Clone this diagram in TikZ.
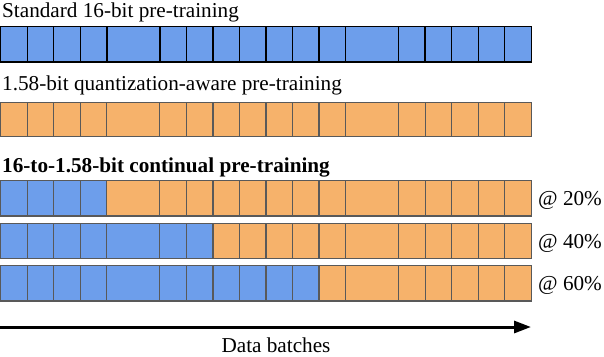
\documentclass[tikz,border=0pt]{standalone}
\usepackage{fontspec}
\setmainfont{Liberation Serif}
\usetikzlibrary{arrows.meta}
\definecolor{fpblue}{HTML}{6D9EEB}
\definecolor{qorange}{HTML}{F6B26B}
\definecolor{cellgray}{HTML}{595959}
\begin{document}
\begin{tikzpicture}[x=1pt,y=-1pt,
  lbl/.style={inner sep=0pt,font=\fontsize{21.2}{24}\selectfont},
  cellblack/.style={draw=black,line width=1.3pt},
  cellgrey/.style={draw=cellgray,line width=1.1pt},
  timeline/.style={line width=3pt,-{Triangle[length=17pt,width=12pt]}}]
\useasboundingbox (0,0) rectangle (604,356);
\def\ux{26.52}
\def\xo{0.8}
% rows: top, bottom, switch unit (cells with index < switch are blue), style
\foreach \top/\bot/\sw/\st in {26.3/62/20/cellblack, 102.3/136.7/0/cellgrey, 180.7/216/4/cellgrey, 223.3/258.3/8/cellgrey, 265.3/301/12/cellgrey}{
  \foreach \a/\b in {0/1,1/2,2/3,3/4,4/6,6/7,7/8,8/9,9/10,10/11,11/12,12/13,13/15,15/16,16/17,17/18,18/19,19/20}{
    \pgfmathsetmacro{\xa}{\xo+\a*\ux}
    \pgfmathsetmacro{\xb}{\xo+\b*\ux}
    \ifnum\a<\sw
      \path[fill=fpblue,\st] (\xa,\top) rectangle (\xb,\bot);
    \else
      \path[fill=qorange,\st] (\xa,\top) rectangle (\xb,\bot);
    \fi
  }
}
\node[lbl,anchor=base west] (t1) at (2,17) {Standard 16-bit pre-training};
\node[lbl,anchor=base west] (t2) at (2,90) {1.58-bit quantization-aware pre-training};
\node[lbl,anchor=base west,font=\fontsize{21.2}{24}\selectfont\bfseries] (t3) at (2,172) {16-to-1.58-bit continual pre-training};
\node[lbl,anchor=base west] (p20) at (538,205.5) {@ 20\%};
\node[lbl,anchor=base west] (p40) at (538,248) {@ 40\%};
\node[lbl,anchor=base west] (p60) at (538,290.5) {@ 60\%};
\coordinate (as) at (0,327);
\coordinate (ae) at (531,327);
\draw[timeline] (as) -- (ae);
\node[lbl,anchor=base] (db) at (276,352) {Data batches};
\end{tikzpicture}
\end{document}
